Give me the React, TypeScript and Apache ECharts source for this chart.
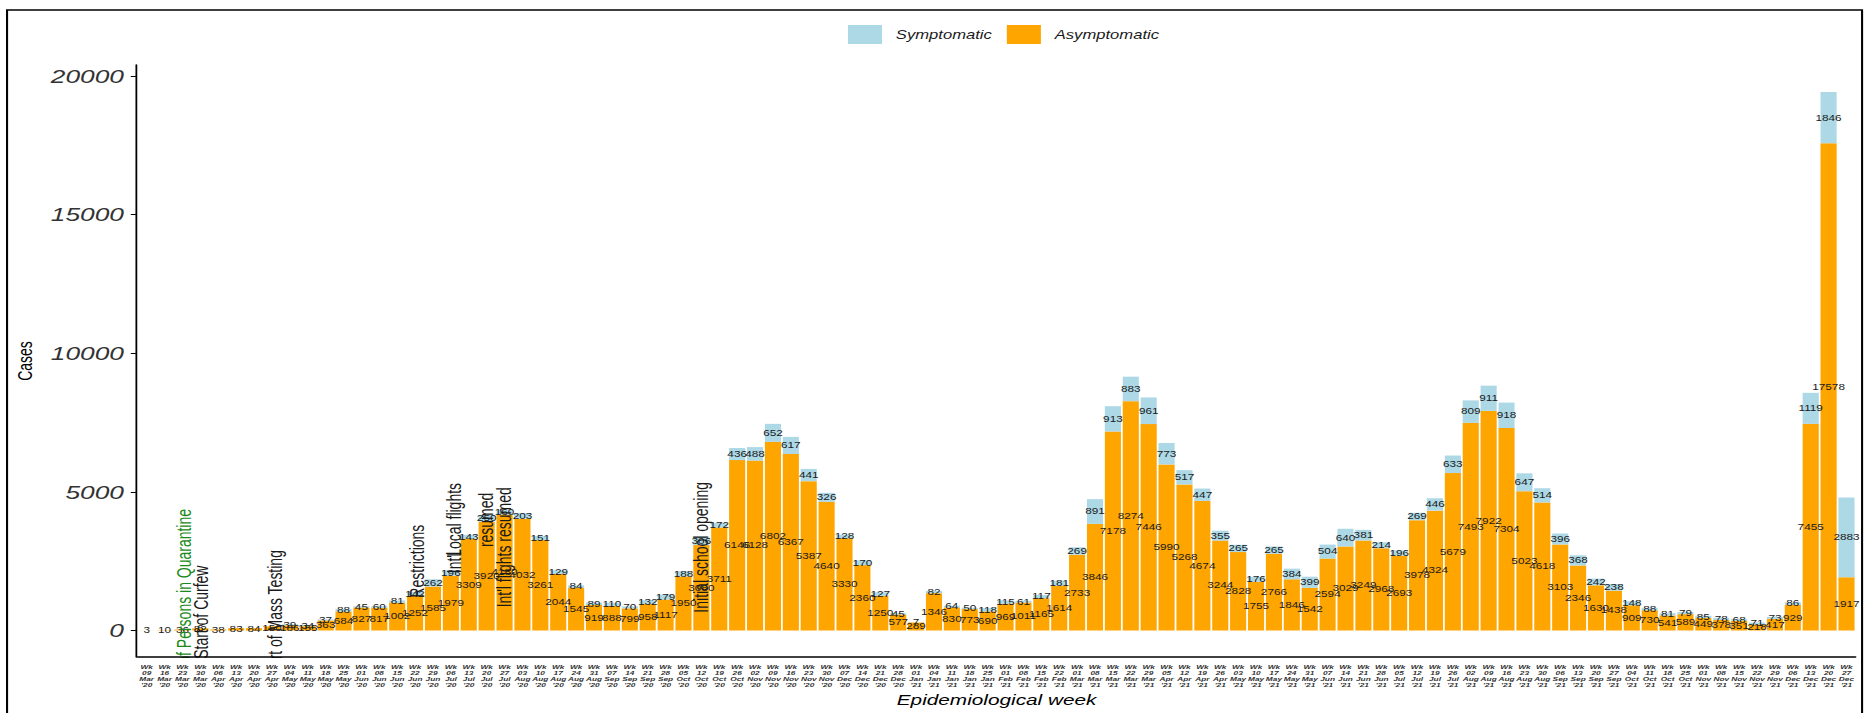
import React, { useEffect, useRef } from 'react';
import * as echarts from 'echarts';

const weeks = [
  "09 Mar '20", "16 Mar '20", "23 Mar '20", "30 Mar '20", "06 Apr '20", "13 Apr '20", "20 Apr '20", "27 Apr '20",
  "04 May '20", "11 May '20", "18 May '20", "25 May '20", "01 Jun '20", "08 Jun '20", "15 Jun '20", "22 Jun '20",
  "29 Jun '20", "06 Jul '20", "13 Jul '20", "20 Jul '20", "27 Jul '20", "03 Aug '20", "10 Aug '20", "17 Aug '20",
  "24 Aug '20", "31 Aug '20", "07 Sep '20", "14 Sep '20", "21 Sep '20", "28 Sep '20", "05 Oct '20", "12 Oct '20",
  "19 Oct '20", "26 Oct '20", "02 Nov '20", "09 Nov '20", "16 Nov '20", "23 Nov '20", "30 Nov '20", "07 Dec '20",
  "14 Dec '20", "21 Dec '20", "28 Dec '20", "01 Jan '21",
  "04 Jan '21", "11 Jan '21", "18 Jan '21", "25 Jan '21", "01 Feb '21", "08 Feb '21", "15 Feb '21", "22 Feb '21",
  "01 Mar '21", "08 Mar '21", "15 Mar '21", "22 Mar '21", "29 Mar '21", "05 Apr '21", "12 Apr '21", "19 Apr '21",
  "26 Apr '21", "03 May '21", "10 May '21", "17 May '21", "24 May '21", "31 May '21", "07 Jun '21", "14 Jun '21",
  "21 Jun '21", "28 Jun '21", "05 Jul '21", "12 Jul '21", "19 Jul '21", "26 Jul '21", "02 Aug '21", "09 Aug '21",
  "16 Aug '21", "23 Aug '21", "30 Aug '21", "06 Sep '21", "13 Sep '21", "20 Sep '21", "27 Sep '21", "04 Oct '21",
  "11 Oct '21", "18 Oct '21", "25 Oct '21", "01 Nov '21", "08 Nov '21", "15 Nov '21", "22 Nov '21", "29 Nov '21",
  "06 Dec '21", "13 Dec '21", "20 Dec '21", "27 Dec '21",
];

const asymptomatic = [
  3, 10, 36, 82, 38, 83, 84, 150,
  186, 155, 363, 684, 827, 817, 1002, 1252,
  1585, 1979, 3309, 3920, 4180, 4032, 3261, 2044,
  1545, 919, 888, 799, 958, 1117, 1950, 3080,
  3711, 6146, 6128, 6802, 6367, 5387, 4640, 3330,
  2360, 1250, 577, 289,
  1346, 830, 773, 690, 969, 1011, 1165, 1614,
  2733, 3846, 7178, 8274, 7446, 5990, 5268, 4674,
  3244, 2828, 1755, 2766, 1846, 1542, 2594, 3029,
  3249, 2968, 2693, 3978, 4324, 5679, 7493, 7922,
  7304, 5023, 4618, 3103, 2346, 1630, 1438, 909,
  730, 541, 589, 449, 378, 351, 218, 417,
  929, 7455, 17578, 1917,
];

const symptomatic = [
  null, null, null, 6, null, null, null, null,
  39, 34, 37, 88, 45, 60, 81, 142,
  262, 196, 143, 250, 160, 203, 151, 129,
  84, 89, 110, 70, 132, 179, 188, 306,
  172, 436, 488, 652, 617, 441, 326, 128,
  170, 127, 45, 7,
  82, 64, 50, 118, 115, 61, 117, 181,
  269, 891, 913, 883, 961, 773, 517, 447,
  355, 265, 176, 265, 384, 399, 504, 640,
  381, 214, 196, 269, 446, 633, 809, 911,
  918, 647, 514, 396, 368, 242, 238, 148,
  88, 81, 79, 85, 78, 68, 71, 73,
  86, 1119, 1846, 2883,
];

const yTicks = [0, 5000, 10000, 15000, 20000];

const noteTexts = [
  'No. of Persons in Quarantine', 'Start of Curfew', 'Start of Mass Testing', 'Restrictions',
  "Int'l", 'Local flights', 'resumed', "Int'l flights resumed", 'Initial school opening',
];
const noteWeeks = [
  "23 Mar '20", "30 Mar '20", "27 Apr '20", "22 Jun '20",
  "06 Jul '20", "06 Jul '20", "20 Jul '20", "27 Jul '20", "12 Oct '20",
];
const noteValues = [1130, 660, 550, 2500, 2450, 3990, 3990, 3000, 3000];
const noteShift = [0.14, 0.09, 0.23, 0.14, 0.2, 0.2, 0.02, 0.03, 0.04];
const noteColors = ['#1a8a1a', '#1a1a1a', '#1a1a1a', '#1a1a1a', '#1a1a1a', '#1a1a1a', '#1a1a1a', '#1a1a1a', '#1a1a1a'];

const W = 1350;
const H = 713;
const SX = 1869 / W;
const FONT = "'Liberation Sans', Arial, Helvetica, sans-serif";
const Y_MIN = -960;
const Y_MAX = 20400;

export default function App() {
  const ref = useRef<HTMLDivElement>(null);

  useEffect(() => {
    if (!ref.current) return;
    const chart = echarts.init(ref.current, null, { renderer: 'svg' });
    const labelStyle = { show: true, position: 'inside', fontSize: 8.5, color: '#1a1a1a', fontFamily: FONT };
    chart.setOption({
      animation: false,
      backgroundColor: '#ffffff',
      textStyle: { fontFamily: FONT },
      legend: {
        data: ['Symptomatic', 'Asymptomatic'],
        left: 607.5,
        top: 20,
        itemWidth: 24.6,
        itemHeight: 19,
        itemGap: 10.8,
        icon: 'rect',
        selectedMode: false,
        textStyle: { fontStyle: 'italic', fontSize: 12, color: '#1a1a1a', padding: [0, 0, 0, 5] },
      },
      grid: { left: 99.5, right: 9.8, top: 65, bottom: 55, containLabel: false },
      xAxis: {
        type: 'category',
        data: weeks,
        z: 10,
        name: 'Epidemiological week',
        nameLocation: 'middle',
        nameGap: 33,
        nameTextStyle: { fontSize: 15, fontStyle: 'italic', color: '#000' },
        axisLine: { onZero: false, lineStyle: { color: '#000', width: 1.5 } },
        axisTick: { alignWithLabel: true, interval: 0, length: 4, lineStyle: { color: '#000' } },
        axisLabel: {
          interval: 0,
          fontSize: 6,
          lineHeight: 6,
          fontWeight: 'bold',
          fontStyle: 'italic',
          color: '#333',
          margin: 7,
          formatter: (v: string) => 'Wk\n' + v.split(' ').join('\n'),
        },
      },
      yAxis: {
        type: 'value',
        min: Y_MIN,
        max: Y_MAX,
        offset: 1,
        name: 'Cases',
        nameLocation: 'middle',
        nameGap: 72,
        nameRotate: 90,
        nameTextStyle: { fontSize: 14, color: '#000' },
        axisLine: { show: true, lineStyle: { color: '#000', width: 1.3 } },
        axisTick: { show: true, length: 4, customValues: yTicks, lineStyle: { color: '#000' } },
        axisLabel: {
          customValues: yTicks,
          fontSize: 19,
          fontStyle: 'italic',
          color: '#333',
          margin: 9,
          formatter: (v: number) => String(v),
        },
        splitLine: { show: false },
      },
      series: [
        {
          name: 'Asymptomatic',
          type: 'bar',
          stack: 'cases',
          data: asymptomatic,
          barCategoryGap: '10%',
          itemStyle: { color: '#FFA500' },
          label: labelStyle,
          emphasis: { disabled: true },
        },
        {
          name: 'Symptomatic',
          type: 'bar',
          stack: 'cases',
          data: symptomatic,
          itemStyle: { color: '#ADD8E6' },
          label: labelStyle,
          emphasis: { disabled: true },
        },
      ],
    });

    const p0 = chart.convertToPixel({ gridIndex: 0 }, [0, 0]) as number[];
    const p1 = chart.convertToPixel({ gridIndex: 0 }, [1, 0]) as number[];
    const band = p1[0] - p0[0];
    const bottom = (chart.convertToPixel({ gridIndex: 0 }, [0, Y_MIN]) as number[])[1];

    const notes = noteTexts.map((t, i) => {
      const idx = weeks.indexOf(noteWeeks[i]);
      const p = chart.convertToPixel({ gridIndex: 0 }, [idx, noteValues[i]]) as number[];
      return {
        type: 'text',
        x: p[0] + noteShift[i] * band,
        y: p[1],
        rotation: Math.PI / 2,
        z: 3,
        silent: true,
        style: {
          text: t,
          fontSize: 14,
          fontFamily: FONT,
          fill: noteColors[i],
          align: 'center',
          verticalAlign: 'middle',
        },
      };
    });

    const coverLeft = p0[0] + 1.5 * band;
    const coverRight = p0[0] + 8.5 * band;

    chart.setOption({
      graphic: {
        elements: [
          ...notes,
          {
            type: 'rect',
            z: 4,
            silent: true,
            shape: { x: coverLeft, y: bottom + 1, width: coverRight - coverLeft, height: 40 },
            style: { fill: '#ffffff' },
          },
          {
            type: 'rect',
            z: 20,
            silent: true,
            shape: { x: 5.1, y: 10, width: 1339.9, height: 720 },
            style: { fill: 'none', stroke: '#000', lineWidth: 1.5 },
          },
        ],
      },
    });

    return () => chart.dispose();
  }, []);

  return (
    <div
      style={{
        position: 'fixed',
        left: 0,
        top: 0,
        width: 1869,
        height: H,
        overflow: 'hidden',
        background: '#fff',
      }}
    >
      <div
        ref={ref}
        style={{
          width: W,
          height: H,
          transform: `scaleX(${SX})`,
          transformOrigin: '0 0',
        }}
      />
    </div>
  );
}
